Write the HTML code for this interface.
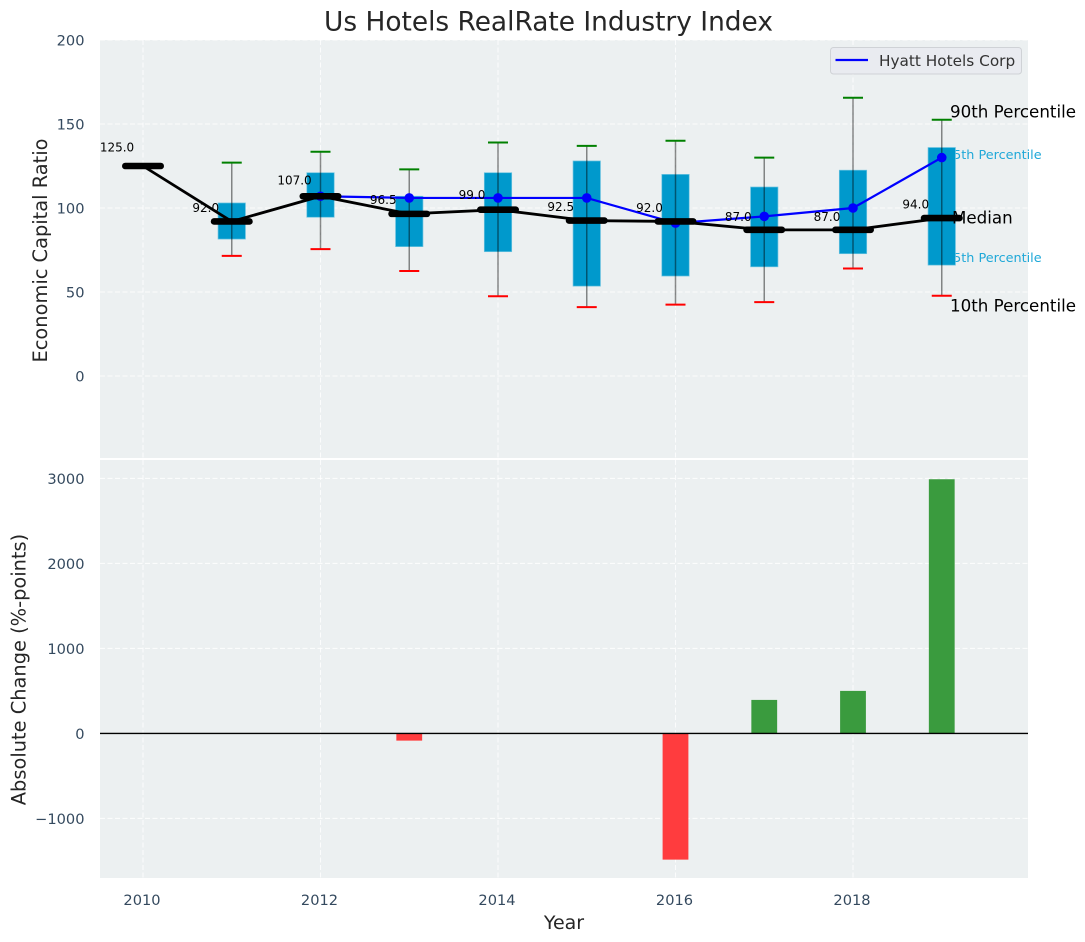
<!DOCTYPE html>
<html lang="en">
<head>
<meta charset="utf-8">
<title>Us Hotels RealRate Industry Index</title>
<style>
html,body{margin:0;padding:0;background:#fff;}
svg{display:block;font-family:"DejaVu Sans","Liberation Sans",sans-serif;}
</style>
</head>
<body>
<svg id="chart" xmlns="http://www.w3.org/2000/svg" width="1085" height="942" viewBox="0 0 1085 942">
  <rect x="0" y="0" width="1085" height="942" fill="#ffffff"/>
  <text x="548.5" y="30.5" text-anchor="middle" font-size="26.4" fill="#262626">Us Hotels RealRate Industry Index</text>
  <rect x="100" y="40" width="928" height="418" fill="#ecf0f1"/>
  <rect x="100" y="460" width="928" height="418" fill="#ecf0f1"/>
  <g id="grid"></g>
  <g id="ticks"></g>
  <text transform="translate(47,250.5) rotate(-90)" text-anchor="middle" font-size="19.4" fill="#262626">Economic Capital Ratio</text>
  <text transform="translate(25.5,669.5) rotate(-90)" text-anchor="middle" font-size="19.4" fill="#262626">Absolute Change (%-points)</text>
  <text x="564" y="929" text-anchor="middle" font-size="19" fill="#262626">Year</text>
  <text x="945" y="159" font-size="12.8" fill="#1fa8d8">75th Percentile</text>
  <text x="945" y="262" font-size="12.8" fill="#1fa8d8">25th Percentile</text>
  <g id="boxes"></g>
  <g id="whiskers"></g>
  <g id="hyatt"></g>
  <g id="median"></g>
  <g id="values"></g>
  <text x="950" y="117.5" font-size="16.7" fill="#000000">90th Percentile</text>
  <text x="952" y="223.5" font-size="16.7" fill="#000000">Median</text>
  <text x="950" y="311.5" font-size="16.7" fill="#000000">10th Percentile</text>
  <g id="bars"></g>
  <g>
    <rect x="830.5" y="47.5" width="191" height="26.5" rx="3" fill="#e9ebf0" stroke="#cfd2d6" stroke-width="1"/>
    <line x1="835.5" y1="60" x2="868" y2="60" stroke="#0000ff" stroke-width="2.2"/>
    <text x="879" y="66" font-size="15.3" fill="#333333">Hyatt Hotels Corp</text>
  </g>
</svg>
<script>
const years = [2010, 2011, 2012, 2013, 2014, 2015, 2016, 2017, 2018, 2019];
const p90 = [null, 127, 133.5, 123, 139, 137, 140, 130, 165.6, 152.5];
const p75 = [null, 103, 121, 107, 121, 128, 120, 112.5, 122.5, 136];
const p25 = [null, 81.5, 94.5, 77, 74, 53.5, 59.5, 65, 72.8, 66];
const p10 = [null, 71.5, 75.5, 62.5, 47.5, 41, 42.5, 44, 64, 47.8];
const medians = [125, 92, 107, 96.5, 99, 92.5, 92, 87, 87, 94];
const hyattValues = [null, null, 107, 106, 106, 106, 91, 95, 100, 130];
const absoluteChange = [0, 0, 0, -85, 0, 0, -1485, 394, 500, 2990];
const xTickLabels = [2010, 2012, 2014, 2016, 2018];
const topYTicks = [0, 50, 100, 150, 200];
const bottomYTicks = [-1000, 0, 1000, 2000, 3000];

const NS = 'http://www.w3.org/2000/svg';
const xAt = function (year) { return 143 + (year - 2010) * 88.75; };
const yTop = function (value) { return 376 - value * 1.68; };
const yBottom = function (value) { return 733.4 - value * 0.085; };
const gridStyle = {stroke: '#ffffff', 'stroke-width': 1.1, 'stroke-opacity': 0.8, 'stroke-dasharray': '5 2.5'};

function make(parentId, tag, attrs, text) {
  const el = document.createElementNS(NS, tag);
  Object.keys(attrs).forEach(function (k) { el.setAttribute(k, attrs[k]); });
  if (text !== undefined) el.textContent = text;
  document.getElementById(parentId).appendChild(el);
  return el;
}

/* grid */
xTickLabels.forEach(function (year) {
  [[40, 458], [460, 878]].forEach(function (span) {
    const g = make('grid', 'line', Object.assign({x1: xAt(year), x2: xAt(year), y1: span[0], y2: span[1]}, gridStyle));
    
    
  });
  const t = make('ticks', 'text', {x: xAt(year) - 1, y: 905, 'text-anchor': 'middle', 'font-size': 14.6, fill: '#34495e'}, String(year));
  
  
});
topYTicks.forEach(function (v) {
  const g = make('grid', 'line', Object.assign({x1: 100, x2: 1028, y1: yTop(v), y2: yTop(v)}, gridStyle));
  
  
  const t = make('ticks', 'text', {x: 84.5, y: yTop(v) + 5.5, 'text-anchor': 'end', 'font-size': 14.6, fill: '#34495e'}, String(v));
  
  
});
bottomYTicks.forEach(function (v) {
  const g = make('grid', 'line', Object.assign({x1: 100, x2: 1028, y1: yBottom(v), y2: yBottom(v)}, gridStyle));
  
  
  const t = make('ticks', 'text', {x: 84.5, y: yBottom(v) + 5.5, 'text-anchor': 'end', 'font-size': 14.6, fill: '#34495e'}, String(v).replace('-', '\u2212'));
  
  
});

/* boxes and whiskers */
years.forEach(function (year, i) {
  if (p75[i] === null) return;
  const x = xAt(year);
  const box = make('boxes', 'rect', {x: x - 13.7, y: yTop(p75[i]), width: 27.4, height: yTop(p25[i]) - yTop(p75[i]), fill: '#0099cc', stroke: '#6cc4e0', 'stroke-width': 0.7});
  
  
  const stem = make('whiskers', 'line', {x1: x, x2: x, y1: yTop(p90[i]), y2: yTop(p10[i]), stroke: '#000000', 'stroke-opacity': 0.45, 'stroke-width': 1.5});
  
  
  const hi = make('whiskers', 'line', {x1: x - 10, x2: x + 10, y1: yTop(p90[i]), y2: yTop(p90[i]), stroke: '#008000', 'stroke-width': 2});
  
  
  const lo = make('whiskers', 'line', {x1: x - 10, x2: x + 10, y1: yTop(p10[i]), y2: yTop(p10[i]), stroke: '#ff0000', 'stroke-width': 2});
  
  
});

/* hyatt series */
const hyattPoints = [];
years.forEach(function (year, i) {
  if (hyattValues[i] !== null) hyattPoints.push(xAt(year) + ',' + yTop(hyattValues[i]));
});
const hyattLine = make('hyatt', 'polyline', {points: hyattPoints.join(' '), fill: 'none', stroke: '#0000ff', 'stroke-width': 2.2});


years.forEach(function (year, i) {
  if (hyattValues[i] === null) return;
  const dot = make('hyatt', 'circle', {cx: xAt(year), cy: yTop(hyattValues[i]), r: 4.8, fill: '#0000ff'});
  
  
});

/* median series */
const medianPoints = years.map(function (year, i) { return xAt(year) + ',' + yTop(medians[i]); });
const medianLine = make('median', 'polyline', {points: medianPoints.join(' '), fill: 'none', stroke: '#000000', 'stroke-width': 2.8});


years.forEach(function (year, i) {
  const x = xAt(year);
  const bar = make('median', 'line', {x1: x - 17.7, x2: x + 17.7, y1: yTop(medians[i]), y2: yTop(medians[i]), stroke: '#000000', 'stroke-width': 6.6, 'stroke-linecap': 'round'});
  
  
  const label = make('values', 'text', {x: x - 26, y: yTop(medians[i] * 1.09) + 4.5, 'text-anchor': 'middle', 'font-size': 12, fill: '#000000'}, medians[i].toFixed(1));
  
  
});

/* absolute change bars */
years.forEach(function (year, i) {
  const v = absoluteChange[i];
  if (v === 0) return;
  const y0 = yBottom(0);
  const y1 = yBottom(v);
  const bar = make('bars', 'rect', {x: xAt(year) - 12.9, y: Math.min(y0, y1), width: 25.8, height: Math.abs(y1 - y0), fill: v < 0 ? '#ff3c3e' : '#3a9b3e'});
  
  
});
const zero = make('bars', 'line', {x1: 100, x2: 1028, y1: yBottom(0), y2: yBottom(0), stroke: '#000000', 'stroke-width': 1.4});


</script>
</body>
</html>
